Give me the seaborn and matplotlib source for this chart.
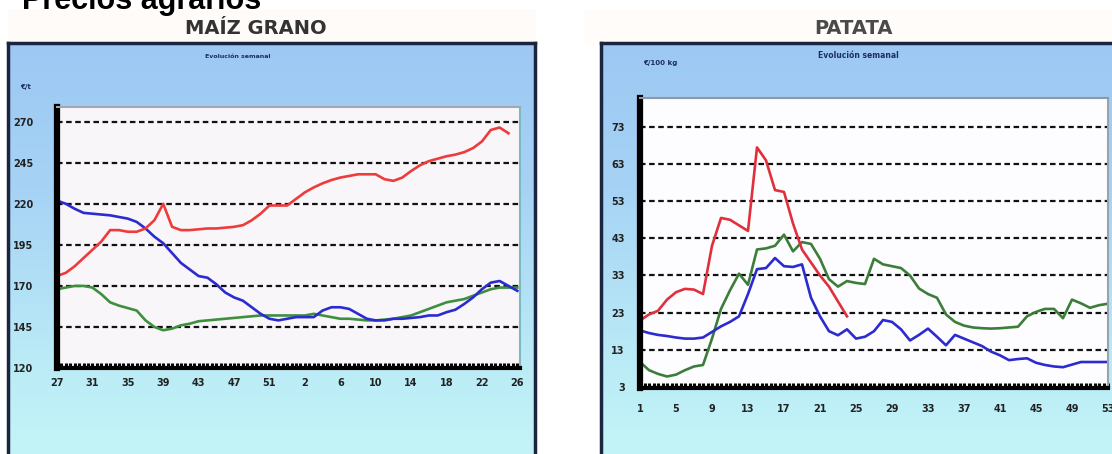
import numpy as np
import pandas as pd
import matplotlib.pyplot as plt
import seaborn as sns
from matplotlib.ticker import MultipleLocator
from matplotlib.colors import LinearSegmentedColormap
from matplotlib.patches import Rectangle

W, H = 1112, 454

# MAIZ GRANO: semanas 27 a 53 y 1 a 26
maiz_weeks = list(range(27, 54)) + list(range(1, 27))
maiz_red = [176, 178, 182, 187, 192, 197, 204, 204, 203, 203,
            205, 210, 220, 206, 204, 204, 204.5, 205, 205, 205.5,
            206, 207, 210, 214, 219, 219, 219, 223, 227, 230,
            232.5, 234.5, 236, 237, 238, 238, 238, 235, 234, 236,
            240, 243.5, 246, 247.5, 249, 250, 251.5, 254, 258, 265,
            266.5, 263]
maiz_blue = [222, 220, 217, 214.5, 214, 213.5, 213, 212, 211, 209,
             205, 200, 196, 190, 184, 180, 176, 175, 171, 166,
             163, 161, 157, 153, 150, 149, 150, 151, 151, 151,
             155, 157, 157, 156, 153, 150, 149, 149, 150, 150,
             150.5, 151, 152, 152, 154, 155.5, 159, 163, 168, 172,
             173, 170, 167]
maiz_green = [168, 169, 170, 170, 169, 165, 160, 158, 156.5, 155,
              149, 145, 143, 144, 146, 147, 148.5, 149, 149.5, 150,
              150.5, 151, 151.5, 152, 152, 152, 152, 152, 152, 153,
              152, 151, 150, 150, 149.5, 149, 149, 149.5, 150, 151,
              152, 154, 156, 158, 160, 161, 162, 164, 166, 168,
              169, 169, 169]
maiz_yticks = [120, 145, 170, 195, 220, 245, 270]

# PATATA: semanas 1 a 53
patata_weeks = list(range(1, 54))
patata_red = [20.9, 22.5, 23.5, 26.5, 28.5, 29.4, 29.2, 28, 41, 48.5,
              48, 46.5, 45, 67.5, 64, 56, 55.5, 47, 40, 36.5,
              33, 30, 26, 22]
patata_green = [9.7, 7.5, 6.5, 5.8, 6.3, 7.5, 8.5, 8.9, 16, 24,
                29, 33.5, 30.5, 40, 40.3, 41, 44, 39.5, 42, 41.5,
                37.5, 32, 30, 31.5, 31, 30.7, 37.5, 36, 35.5, 35,
                33, 29.5, 28, 27, 22.5, 20.5, 19.5, 19, 18.8, 18.7,
                18.8, 19, 19.2, 22, 23.2, 24, 24, 21.5, 26.5, 25.5,
                24.3, 25, 25.4]
patata_blue = [18.2, 17.5, 17, 16.7, 16.3, 16, 16, 16.3, 17.8, 19.3,
               20.5, 22, 28, 34.7, 35, 37.7, 35.5, 35.3, 36, 27,
               22, 18, 16.9, 18.5, 16, 16.5, 18, 21, 20.5, 18.5,
               15.5, 17, 18.7, 16.5, 14.2, 17, 16, 15, 14, 12.5,
               11.5, 10.2, 10.5, 10.7, 9.5, 8.9, 8.5, 8.3, 9, 9.7,
               9.7, 9.7, 9.7]
patata_yticks = [3, 13, 23, 33, 43, 53, 63, 73]


def px_rect(x0, y0, x1, y1):
    return [x0 / W, 1 - y1 / H, (x1 - x0) / W, (y1 - y0) / H]


def long_df(x, series):
    parts = []
    for name, vals in series:
        parts.append(pd.DataFrame({"x": x[:len(vals)], "serie": name, "valor": vals}))
    return pd.concat(parts, ignore_index=True)


fig = plt.figure(figsize=(W / 100, H / 100), dpi=100)
fig.patch.set_facecolor("white")

# faint band behind the panel titles
fig.patches.append(Rectangle((8 / W, 1 - 43 / H), 527 / W, 33 / H,
                             transform=fig.transFigure, color="#fefbf8", zorder=0))
fig.patches.append(Rectangle((585 / W, 1 - 43 / H), 527 / W, 33 / H,
                             transform=fig.transFigure, color="#fffcf9", zorder=0))

bg_cmap = LinearSegmentedColormap.from_list(
    "bg", [(0, "#9cc8f3"), (0.35, "#a6d3f5"), (0.8, "#bcedf7"), (1, "#c3f5f8")])


def frame(x0, x1):
    ax = fig.add_axes(px_rect(x0, 43, x1, H + 5), zorder=1)
    grad = np.linspace(0, 1, 256).reshape(-1, 1)
    ax.imshow(grad, aspect="auto", cmap=bg_cmap, extent=[0, 1, 0, 1], origin="upper")
    ax.set_xticks([])
    ax.set_yticks([])
    for side in ["left", "top", "right"]:
        ax.spines[side].set_color("#1b2540")
        ax.spines[side].set_linewidth(2.5)
    ax.spines["bottom"].set_visible(False)
    return ax


frame(8, 535)
frame(601, 1130)


def style_plot(ax, top_color, right_color, ypad, xpad):
    ax.set_axisbelow(True)
    ax.yaxis.grid(True, color="#111111", linestyle=(0, (2.5, 1.6)), linewidth=1.6)
    ax.xaxis.grid(False)
    ax.spines["left"].set_color("black")
    ax.spines["left"].set_linewidth(4.5)
    ax.spines["bottom"].set_color("black")
    ax.spines["bottom"].set_linewidth(3)
    ax.spines["top"].set_color(top_color)
    ax.spines["top"].set_linewidth(1.5)
    ax.spines["right"].set_color(right_color)
    ax.spines["right"].set_linewidth(1.5)
    ax.xaxis.set_minor_locator(MultipleLocator(0.5))
    ax.tick_params(axis="x", which="both", direction="in", length=3.5, width=2.2,
                   color="black", pad=xpad, labelsize=7, labelcolor="#222222")
    ax.tick_params(axis="y", length=0, pad=ypad, labelsize=7, labelcolor="#222222")
    for lab in ax.get_xticklabels() + ax.get_yticklabels():
        lab.set_fontweight("bold")
    ax.set_xlabel("")
    ax.set_ylabel("")


# MAIZ GRANO
ax1 = fig.add_axes(px_rect(57, 107, 520, 368), zorder=2)
ax1.set_facecolor("#f8f6f9")
maiz_df = long_df(list(range(len(maiz_weeks))),
                  [("verde", maiz_green), ("azul", maiz_blue), ("rojo", maiz_red)])
sns.lineplot(data=maiz_df, x="x", y="valor", hue="serie",
             hue_order=["verde", "azul", "rojo"],
             palette={"verde": "#3f8f3f", "azul": "#2b2bcf", "rojo": "#ee3b3b"},
             estimator=None, linewidth=1.9, legend=False, ax=ax1)
ax1.set_xlim(0, 52.3)
ax1.set_ylim(120, 279)
ax1.set_yticks(maiz_yticks)
ax1.set_xticks(range(0, 53, 4))
ax1.set_xticklabels([str(maiz_weeks[i]) for i in range(0, 53, 4)])
style_plot(ax1, "#a0a8b0", "#7fb8c0", 17, 7)

# PATATA
ax2 = fig.add_axes(px_rect(640, 98, 1108, 388), zorder=2)
ax2.set_facecolor("#fdfdff")
patata_df = long_df(patata_weeks,
                    [("verde", patata_green), ("azul", patata_blue), ("rojo", patata_red)])
sns.lineplot(data=patata_df, x="x", y="valor", hue="serie",
             hue_order=["verde", "azul", "rojo"],
             palette={"verde": "#3d7d3a", "azul": "#2b2bcf", "rojo": "#e0303c"},
             estimator=None, linewidth=1.9, legend=False, ax=ax2)
ax2.set_xlim(1, 53)
ax2.set_ylim(2.7, 80.8)
ax2.set_yticks(patata_yticks)
ax2.set_xticks(range(1, 54, 4))
style_plot(ax2, "#8f98a6", "#9aa2ae", 11, 11.5)

# texts
fig.text(22 / W, 1 - 9 / H, "Precios agrarios", fontsize=22, fontweight="bold",
         family="Liberation Sans", va="baseline", ha="left")
fig.text(256 / W, 1 - 28 / H, "MAÍZ GRANO", fontsize=14, fontweight="bold",
         color="#333333", ha="center", va="center")
fig.text(853 / W, 1 - 28 / H, "PATATA", fontsize=14, fontweight="bold",
         color="#4a4a4a", ha="center", va="center")
fig.text(238 / W, 1 - 57 / H, "Evolución semanal", fontsize=4.5, fontweight="bold",
         color="#1d2d66", ha="center", va="center", zorder=5)
fig.text(858 / W, 1 - 56 / H, "Evolución semanal", fontsize=5.5, fontweight="bold",
         color="#1d2d66", ha="center", va="center", zorder=5)
fig.text(20 / W, 1 - 87 / H, "€/t", fontsize=5, fontweight="bold",
         color="#1d2d66", ha="left", va="center", zorder=5)
fig.text(643 / W, 1 - 63 / H, "€/100 kg", fontsize=5, fontweight="bold",
         color="#1d2d66", ha="left", va="center", zorder=5)

fig.savefig("out.png", dpi=100)
